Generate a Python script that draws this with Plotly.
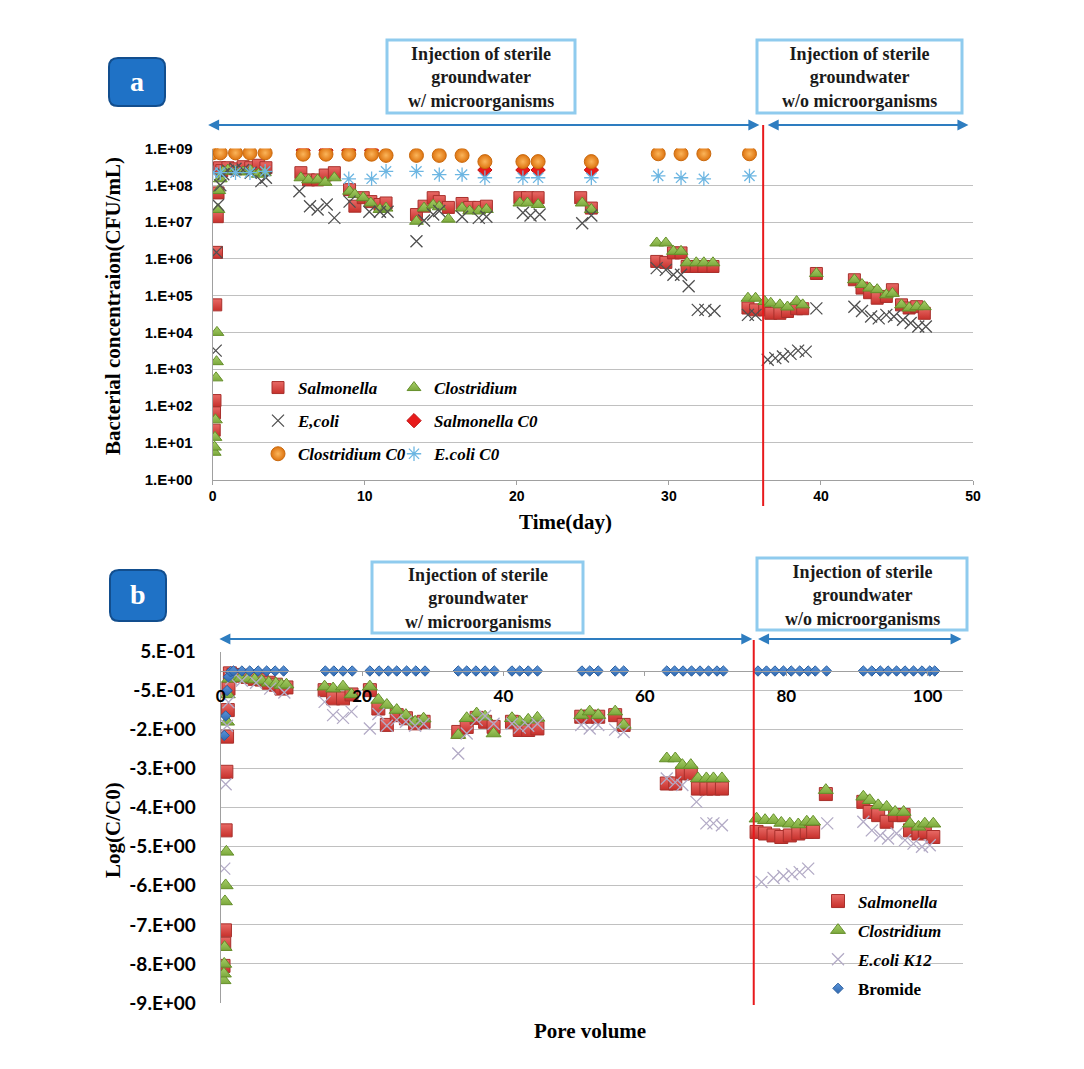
import plotly.graph_objects as go

# page is 1084x1069; the default 8px body margin is left in place
OFF = 8
W, H = 1084 - 2 * OFF, 1069 - 2 * OFF
def PX(x): return (x - OFF) / W
def PY(y): return 1 - (y - OFF) / H

# ---------------- Panel a data (day, CFU/mL) ----------------
sal_a_day = [0.1, 0.12, 0.15, 0.2, 0.25, 0.3, 0.35, 0.45, 0.6, 1.0, 1.5, 2.0, 2.5, 3.0, 3.5,
             5.8, 6.3, 6.9, 7.4, 8.0, 9.0, 9.35, 9.9, 10.4, 11.0, 11.4,
             13.4, 13.9, 14.5, 14.9, 15.5, 16.4, 16.9, 17.5, 18.0, 20.2, 20.7, 21.4, 24.2, 24.9,
             29.2, 29.8, 30.3, 30.8, 31.2, 31.8, 32.3, 32.9,
             35.2, 35.7, 36.3, 36.7, 37.3, 37.8, 38.4, 38.8, 39.7,
             42.2, 42.7, 43.2, 43.7, 44.3, 44.7, 45.3, 45.8, 46.3, 46.8]
sal_a = [2.2e1, 6.5e1, 1.4e2, 5.6e4, 1.5e6, 1.4e7, 6.2e7, 3.0e8, 2.5e8, 3.0e8, 2.8e8, 3.2e8, 3.0e8, 3.5e8, 3.0e8,
         2.2e8, 1.4e8, 1.4e8, 1.9e8, 2.2e8, 7.6e7, 2.7e7, 4.6e7, 3.6e7, 3.0e7, 3.3e7,
         1.6e7, 2.7e7, 4.6e7, 3.6e7, 2.5e7, 3.2e7, 2.5e7, 2.5e7, 2.7e7, 4.6e7, 4.6e7, 4.6e7, 4.6e7, 2.4e7,
         8.5e5, 8.0e5, 1.45e6, 1.45e6, 6.2e5, 6.2e5, 6.2e5, 6.2e5,
         4.6e4, 4.1e4, 4.1e4, 3.3e4, 3.3e4, 3.7e4, 4.4e4, 4.4e4, 4.0e5,
         2.7e5, 1.6e5, 1.2e5, 8.5e4, 9.5e4, 1.45e5, 5.6e4, 4.6e4, 5.0e4, 3.3e4]

clo_a_day = [0.1, 0.12, 0.15, 0.18, 0.22, 0.25, 0.28, 0.35, 0.4, 0.5, 0.7, 1.0, 1.5, 2.0, 2.5, 3.0, 3.4,
             5.8, 6.3, 6.9, 7.4, 8.0, 9.0, 9.35, 9.9, 10.4, 11.0, 11.4,
             13.4, 13.9, 14.5, 14.9, 15.5, 16.4, 16.9, 17.5, 18.0, 20.2, 20.7, 21.4, 24.3, 24.9,
             29.2, 29.8, 30.3, 30.8, 31.2, 31.8, 32.3, 32.9,
             35.2, 35.7, 36.3, 36.7, 37.3, 37.8, 38.4, 38.8, 39.7,
             42.2, 42.7, 43.2, 43.7, 44.3, 44.7, 45.3, 45.8, 46.3, 46.8]
clo_a = [5.5e0, 7.6e0, 1.4e1, 4.2e1, 5.8e2, 1.6e3, 1.0e4, 2.2e7, 7.2e7, 1.5e8, 2.4e8, 2.6e8, 2.4e8, 2.3e8, 2.5e8, 2.0e8, 2.2e8,
         1.6e8, 1.4e8, 1.4e8, 1.2e8, 1.6e8, 6.9e7, 5.6e7, 4.6e7, 3.3e7, 2.2e7, 2.4e7,
         1.05e7, 2.4e7, 2.9e7, 2.6e7, 1.2e7, 2.4e7, 2.0e7, 2.0e7, 2.2e7, 3.3e7, 3.3e7, 3.0e7, 3.3e7, 2.2e7,
         2.7e6, 2.7e6, 1.6e6, 1.6e6, 7.8e5, 7.8e5, 7.8e5, 7.8e5,
         8.5e4, 8.5e4, 6.9e4, 6.2e4, 5.6e4, 4.9e4, 6.9e4, 5.6e4, 4.0e5,
         2.7e5, 2.0e5, 1.6e5, 1.45e5, 1.05e5, 1.15e5, 5.6e4, 4.6e4, 5.0e4, 5.0e4]

eco_a_day = [0.2, 0.25, 0.35, 0.5, 0.7, 1.0, 1.5, 2.0, 2.5, 3.2, 3.5,
             5.7, 6.4, 6.9, 7.5, 8.0, 9.0, 10.3, 11.0, 11.5,
             13.4, 13.9, 14.5, 14.9, 16.4, 17.5, 18.0, 20.4, 20.9, 21.5, 24.3, 24.9,
             29.2, 29.8, 30.3, 30.8, 31.3, 31.9, 32.4, 33.0,
             35.2, 35.7, 36.5, 37.0, 37.5, 38.0, 38.5, 39.0, 39.7,
             42.2, 42.7, 43.3, 43.8, 44.3, 44.8, 45.4, 45.9, 46.4, 46.9]
eco_a = [3.2e3, 1.5e6, 2.9e7, 1.0e8, 2.0e8, 2.5e8, 2.8e8, 2.6e8, 2.2e8, 1.3e8, 1.6e8,
         6.9e7, 2.7e7, 2.2e7, 3.0e7, 1.3e7, 3.6e7, 1.9e7, 1.9e7, 1.9e7,
         3.0e6, 1.1e7, 1.6e7, 2.0e7, 1.4e7, 1.3e7, 1.4e7, 1.8e7, 1.5e7, 1.6e7, 9.3e6, 1.5e7,
         5.6e5, 5.0e5, 3.7e5, 3.7e5, 1.8e5, 4.1e4, 4.1e4, 3.8e4,
         3.0e4, 3.0e4, 1.8e3, 2.0e3, 2.2e3, 2.6e3, 3.2e3, 3.0e3, 4.5e4,
         5.0e4, 3.8e4, 2.7e4, 2.4e4, 3.0e4, 2.7e4, 2.2e4, 1.8e4, 1.45e4, 1.45e4]

salC0_day = [5.95, 7.45, 8.95, 10.45, 17.9, 20.4, 21.4, 24.9]
salC0 = [9.0e8, 9.0e8, 9.0e8, 9.0e8, 2.6e8, 2.6e8, 2.6e8, 2.6e8]

cloC0_day = [0.0, 0.5, 1.5, 2.45, 3.45, 5.95, 7.45, 8.95, 10.45, 11.4, 13.4, 14.9, 16.4,
             17.9, 20.4, 21.4, 24.9, 29.3, 30.8, 32.3, 35.3]
cloC0 = [7.6e8, 7.6e8, 7.6e8, 7.6e8, 7.6e8, 7.0e8, 7.0e8, 7.0e8, 7.0e8, 6.5e8, 6.5e8, 6.5e8, 6.5e8,
         4.4e8, 4.4e8, 4.4e8, 4.4e8, 7.2e8, 7.2e8, 7.2e8, 7.2e8]

ecoC0_day = [0.0, 0.5, 1.5, 2.45, 3.45, 8.95, 10.45, 11.4, 13.4, 14.9, 16.4, 17.9, 20.4, 21.4,
             24.9, 29.3, 30.8, 32.3, 35.3]
ecoC0 = [2.2e8, 2.2e8, 2.2e8, 2.2e8, 2.4e8, 1.5e8, 1.5e8, 2.4e8, 2.4e8, 1.95e8, 1.95e8, 1.6e8, 1.6e8, 1.6e8,
         1.6e8, 1.8e8, 1.6e8, 1.5e8, 1.8e8]

# ---------------- Panel b data (pore volume, log C/C0) ----------------
sal_b_pv = [0.4, 0.5, 0.6, 0.7, 0.8, 0.9, 1.0, 1.1, 1.3,
            1.8, 2.8, 3.8, 4.8, 5.8, 6.8, 7.8, 8.6, 9.3,
            14.7, 15.9, 17.3, 18.5, 21.1, 22.3, 23.5, 24.9, 26.2, 27.5, 28.7,
            33.6, 34.8, 36.2, 37.4, 38.6, 41.2, 42.3, 43.5, 44.8,
            51.0, 52.2, 53.4, 55.8, 57.0,
            63.1, 64.3, 65.3, 66.5, 67.5, 68.7, 69.7, 70.9,
            75.8, 77.0, 78.2, 79.3, 80.5, 81.7, 82.9, 83.8, 85.6,
            90.9, 91.8, 93.0, 94.2, 95.4, 96.6, 97.5, 98.7, 99.6, 100.8]
sal_b = [-7.55, -6.98, -6.64, -4.08, -2.58, -1.68, -1.0, -0.45, -0.06,
         -0.1, -0.12, -0.15, -0.2, -0.22, -0.3, -0.35, -0.45, -0.42,
         -0.49, -0.7, -0.7, -0.6, -0.49, -0.96, -1.38, -1.13, -1.21, -1.34, -1.3,
         -1.56, -1.43, -1.2, -1.3, -1.43, -1.3, -1.51, -1.51, -1.47,
         -1.17, -1.17, -1.17, -1.13, -1.38,
         -2.88, -2.88, -2.62, -2.62, -3.01, -3.01, -3.01, -3.01,
         -4.12, -4.16, -4.21, -4.25, -4.21, -4.16, -4.12, -4.12, -3.15,
         -3.35, -3.61, -3.69, -3.86, -3.69, -3.69, -4.08, -4.16, -4.12, -4.25]

clo_b_pv = [0.4, 0.45, 0.5, 0.55, 0.6, 0.7, 0.8, 0.9, 1.0, 1.2,
            1.8, 2.8, 3.8, 4.8, 5.8, 6.8, 7.8, 8.6, 9.3,
            14.7, 15.9, 17.3, 18.5, 21.1, 22.3, 23.5, 24.9, 26.2, 27.5, 28.7,
            33.6, 34.8, 36.2, 37.4, 38.6, 41.2, 42.3, 43.5, 44.8,
            51.0, 52.2, 53.4, 55.8, 57.0,
            63.1, 64.3, 65.3, 66.5, 67.5, 68.7, 69.7, 70.9,
            75.8, 77.0, 78.2, 79.3, 80.5, 81.7, 82.9, 83.8, 85.6,
            90.9, 91.8, 93.0, 94.2, 95.4, 96.6, 97.5, 98.7, 99.6, 100.8]
clo_b = [-7.92, -7.75, -7.5, -7.07, -5.9, -5.49, -4.63, -1.3, -0.6, -0.2,
         -0.15, -0.18, -0.2, -0.22, -0.25, -0.3, -0.32, -0.36, -0.35,
         -0.4, -0.45, -0.4, -0.6, -0.4, -0.74, -0.87, -1.0, -1.13, -1.3, -1.22,
         -1.64, -1.21, -1.09, -1.17, -1.6, -1.21, -1.3, -1.25, -1.2,
         -1.13, -1.04, -1.13, -1.04, -1.38,
         -2.24, -2.24, -2.41, -2.41, -2.75, -2.75, -2.75, -2.75,
         -3.78, -3.82, -3.82, -3.89, -3.91, -3.93, -3.86, -3.86, -3.05,
         -3.22, -3.31, -3.44, -3.48, -3.61, -3.61, -3.91, -3.99, -3.91, -3.91]

eco_b_pv = [0.5, 0.7, 0.9, 1.1, 1.5, 3.0, 5.0, 7.0, 9.0,
            14.7, 15.9, 17.3, 18.5, 21.1, 22.3, 23.5, 24.9, 26.2, 27.5, 28.7,
            33.6, 34.8, 36.2, 37.4, 38.6, 41.2, 42.3, 43.5, 44.8,
            51.0, 52.2, 53.4, 55.8, 57.0,
            63.1, 64.3, 65.3, 67.3, 68.7, 69.7, 70.9,
            76.5, 78.2, 79.6, 80.8, 81.9, 83.1, 85.8,
            90.9, 92.1, 93.3, 94.4, 95.6, 96.8, 98.0, 99.2, 100.3]
eco_b = [-5.06, -2.9, -1.4, -0.8, -0.2, -0.25, -0.3, -0.45, -0.55,
         -0.79, -1.13, -1.2, -1.04, -1.47, -1.1, -1.4, -1.25, -1.3, -1.4, -1.35,
         -2.11, -1.6, -1.25, -1.15, -1.35, -1.35, -1.45, -1.4, -1.35,
         -1.38, -1.47, -1.38, -1.5, -1.56,
         -2.75, -2.85, -2.92, -3.35, -3.9, -3.9, -3.95,
         -5.4, -5.3, -5.25, -5.2, -5.15, -5.06, -3.9,
         -3.86, -4.08, -4.21, -4.29, -4.16, -4.33, -4.42, -4.5, -4.46]

bro_pv = [0.5, 0.7, 0.9, 1.1, 1.4,
          1.8, 3.0, 4.1, 5.3, 6.5, 7.7, 8.9,
          14.8, 16.0, 17.3, 18.6,
          21.1, 22.4, 23.7, 24.9, 26.3, 27.6, 28.9,
          33.6, 34.8, 36.1, 37.4, 38.7,
          41.2, 42.3, 43.5, 44.8,
          51.1, 52.2, 53.4, 55.8, 57.0,
          63.1, 64.2, 65.4, 66.6, 67.8, 69.0, 70.2, 71.1,
          76.0, 77.2, 78.4, 79.6, 80.7, 81.9, 83.1, 84.1, 85.7,
          90.9, 92.1, 93.3, 94.4, 95.6, 96.8, 98.0, 99.2, 100.3, 101.0]
bro = [-1.65, -1.15, -0.5, -0.15, -0.02,
       0.0, 0.0, 0.0, 0.0, 0.0, 0.0, 0.0,
       0.0, 0.0, 0.0, 0.0,
       0.0, 0.0, 0.0, 0.0, 0.0, 0.0, 0.0,
       0.0, 0.0, 0.0, 0.0, 0.0,
       0.0, 0.0, 0.0, 0.0,
       0.0, 0.0, 0.0, 0.0, 0.0,
       0.0, 0.0, 0.0, 0.0, 0.0, 0.0, 0.0, 0.0,
       0.0, 0.0, 0.0, 0.0, 0.0, 0.0, 0.0, 0.0, 0.0,
       0.0, 0.0, 0.0, 0.0, 0.0, 0.0, 0.0, 0.0, 0.0, 0.0]

a_yticks = [1e0, 1e1, 1e2, 1e3, 1e4, 1e5, 1e6, 1e7, 1e8, 1e9]
a_ytext = ["1.E+00", "1.E+01", "1.E+02", "1.E+03", "1.E+04", "1.E+05", "1.E+06", "1.E+07", "1.E+08", "1.E+09"]
b_yticks = [0.5, -0.5, -1.5, -2.5, -3.5, -4.5, -5.5, -6.5, -7.5, -8.5]
b_ytext = ["5.E-01", "-5.E-01", "-2.E+00", "-3.E+00", "-4.E+00", "-5.E+00", "-6.E+00", "-7.E+00", "-8.E+00", "-9.E+00"]

SERIF = "Liberation Serif"
SANS = "Liberation Sans"

fig = go.Figure()

def add(x, y, name, sym, color, size, lcolor, lw, xa, ya, legend, grp, grad=None):
    marker = dict(symbol=sym, color=color, size=size, line=dict(color=lcolor, width=lw))
    if grad:
        marker["gradient"] = dict(type=grad[0], color=grad[1])
    fig.add_trace(go.Scatter(
        x=x, y=y, mode="markers", name=name, xaxis=xa, yaxis=ya,
        legend=legend, legendgroup=grp, marker=marker))

# panel a
add(sal_a_day, sal_a, "<i>Salmonella</i>", "square", "#E86A66", 12, "#A8302C", 1, "x", "y", "legend", "a1",
    ("vertical", "#C7302B"))
add(clo_a_day, clo_a, "<i>Clostridium</i>", "triangle-up", "#A9D06A", 12, "#658F2A", 1, "x", "y", "legend2", "a2",
    ("vertical", "#7BA83C"))
add(eco_a_day, eco_a, "<i>E,coli</i>", "x-thin-open", "#505050", 12, "#505050", 1.3, "x", "y", "legend", "a3")
add(salC0_day, salC0, "<i>Salmonella C0</i>", "diamond", "#E81B1B", 11, "#C01010", 1, "x", "y", "legend2", "a4")
add(cloC0_day, cloC0, "<i>Clostridium C0</i>", "circle", "#DE7410", 14, "#C9690E", 1, "x", "y", "legend", "a5",
    ("radial", "#FBB55A"))
add(ecoC0_day, ecoC0, "<i>E.coli C0</i>", "asterisk-open", "#6DB6E2", 12, "#6DB6E2", 1.3, "x", "y", "legend2", "a6")

# panel b
add(sal_b_pv, sal_b, "<i>Salmonella</i>", "square", "#E86A66", 13, "#A8302C", 1, "x2", "y2", "legend3", "b1",
    ("vertical", "#C7302B"))
add(clo_b_pv, clo_b, "<i>Clostridium</i>", "triangle-up", "#A9D06A", 13, "#658F2A", 1, "x2", "y2", "legend3", "b2",
    ("vertical", "#7BA83C"))
add(eco_b_pv, eco_b, "<i>E.coli K12</i>", "x-thin-open", "#B3ABC6", 12, "#B3ABC6", 1.3, "x2", "y2", "legend3", "b3")
add(bro_pv, bro, "Bromide", "diamond", "#5B95DA", 8, "#2A5E9E", 1, "x2", "y2", "legend3", "b4",
    ("vertical", "#2F68B0"))

grid = "#C0C0C0"
axline = "#A0A0A0"

layout = dict(
    width=W, height=H, margin=dict(l=0, r=0, t=0, b=0, autoexpand=False),
    paper_bgcolor="white", plot_bgcolor="white", showlegend=True,
    xaxis=dict(domain=[PX(212.7), PX(973)], range=[0, 50], dtick=10, anchor="y",
               showgrid=False, zeroline=False, showline=True, linecolor=axline, linewidth=1,
               ticks="outside", ticklen=4, tickcolor=axline,
               tickfont=dict(family=SANS, size=14, color="black", weight="bold")),
    yaxis=dict(domain=[PY(479.5), PY(148.5)], type="log", range=[0, 9], anchor="x",
               tickvals=a_yticks, ticktext=a_ytext, showgrid=True, gridcolor=grid, gridwidth=1,
               zeroline=False, showline=True, linecolor=axline, ticks="", ticklabelstandoff=16,
               tickfont=dict(family=SANS, size=15, color="black", weight="bold")),
    xaxis2=dict(domain=[PX(220.7), PX(963)], range=[0, 105], anchor="free",
                position=PY(671), showgrid=False, zeroline=False, showline=True,
                linecolor=axline, linewidth=1, ticks="outside", ticklen=4, tickcolor=axline,
                tickvals=[0, 20, 40, 60, 80, 100], ticklabelstandoff=6,
                tickfont=dict(family="Lato", size=17, color="black", weight="bold")),
    yaxis2=dict(domain=[PY(1003), PY(651.5)], range=[-8.5, 0.5], anchor="x2",
                tickvals=b_yticks, ticktext=b_ytext, showgrid=True, gridcolor=grid, gridwidth=1,
                zeroline=False, showline=True, linecolor=axline, ticks="", ticklabelstandoff=20,
                tickfont=dict(family="Lato", size=19, color="black", weight="bold")),
    legend=dict(x=PX(258), y=PY(370), xanchor="left", yanchor="top", bgcolor="rgba(0,0,0,0)",
                tracegroupgap=8, font=dict(family=SERIF, size=17, color="black", weight="bold")),
    legend2=dict(x=PX(394), y=PY(370), xanchor="left", yanchor="top", bgcolor="rgba(0,0,0,0)",
                 tracegroupgap=8, font=dict(family=SERIF, size=17, color="black", weight="bold")),
    legend3=dict(x=PX(818), y=PY(883.5), xanchor="left", yanchor="top", bgcolor="rgba(0,0,0,0)",
                 tracegroupgap=4, font=dict(family=SERIF, size=17, color="black", weight="bold")),
)
fig.update_layout(**layout)

shapes = []
annotations = []

def note(x, y, text, size, color="black", angle=0):
    annotations.append(dict(x=PX(x), y=PY(y), xref="paper", yref="paper", text=text,
                            xanchor="center", yanchor="middle", textangle=angle,
                            showarrow=False, align="center",
                            font=dict(family=SERIF, size=size, color=color, weight="bold")))

def badge(x0, y0, x1, y1, letter):
    r = 9
    p = (f"M {PX(x0+r)},{PY(y0)} L {PX(x1-r)},{PY(y0)} Q {PX(x1)},{PY(y0)} {PX(x1)},{PY(y0+r)} "
         f"L {PX(x1)},{PY(y1-r)} Q {PX(x1)},{PY(y1)} {PX(x1-r)},{PY(y1)} "
         f"L {PX(x0+r)},{PY(y1)} Q {PX(x0)},{PY(y1)} {PX(x0)},{PY(y1-r)} "
         f"L {PX(x0)},{PY(y0+r)} Q {PX(x0)},{PY(y0)} {PX(x0+r)},{PY(y0)} Z")
    shapes.append(dict(type="path", path=p, xref="paper", yref="paper",
                       fillcolor="#1F72C6", line=dict(color="#124E8E", width=2)))
    note((x0 + x1) / 2, (y0 + y1) / 2 - 1, letter, 28, "white")

def textbox(x0, y0, x1, y1, lines):
    shapes.append(dict(type="rect", xref="paper", yref="paper", x0=PX(x0), x1=PX(x1),
                       y0=PY(y1), y1=PY(y0), fillcolor="white",
                       line=dict(color="#8FCBEE", width=3)))
    note((x0 + x1) / 2, (y0 + y1) / 2 + 1, "<br>".join(lines), 18, "#1a1a1a")

def darrow(xa, x0, x1, yp):
    annotations.append(dict(x=x1, y=PY(yp), xref=xa, yref="paper", ax=x0, ay=0,
                            axref=xa, ayref="pixel", text="", showarrow=True,
                            arrowside="end+start", arrowhead=2, arrowsize=1.1,
                            arrowwidth=2, arrowcolor="#2E7DC0", standoff=0, startstandoff=0))

w_lines = ["Injection of sterile", "groundwater", "w/ microorganisms"]
wo_lines = ["Injection of sterile", "groundwater", "w/o microorganisms"]

# panel a decorations
badge(109, 58, 165, 106, "a")
textbox(387, 40, 575, 113, w_lines)
textbox(757, 40, 962, 113, wo_lines)
darrow("x", -0.4, 35.95, 125)
darrow("x", 36.4, 49.7, 125)
shapes.append(dict(type="line", xref="x", yref="paper", x0=36.2, x1=36.2, y0=PY(506), y1=PY(125),
                   line=dict(color="#E8191C", width=2)))

# panel b decorations
badge(110, 570, 166, 621, "b")
textbox(372, 562, 583, 633, w_lines)
textbox(757, 558, 967, 630, wo_lines)
darrow("x2", -0.4, 75.2, 639)
darrow("x2", 75.8, 104.8, 639)
shapes.append(dict(type="line", xref="x2", yref="paper", x0=75.4, x1=75.4, y0=PY(1005), y1=PY(640),
                   line=dict(color="#E8191C", width=2)))

# axis titles
note(565, 522, "Time(day)", 21)
note(113, 306, "Bacterial concentraion(CFU/mL)", 21, angle=-90)
note(590, 1031, "Pore volume", 21)
note(113, 830, "Log(C/C0)", 21, angle=-90)

fig.update_layout(shapes=shapes, annotations=annotations)

fig.write_html("out.html")
